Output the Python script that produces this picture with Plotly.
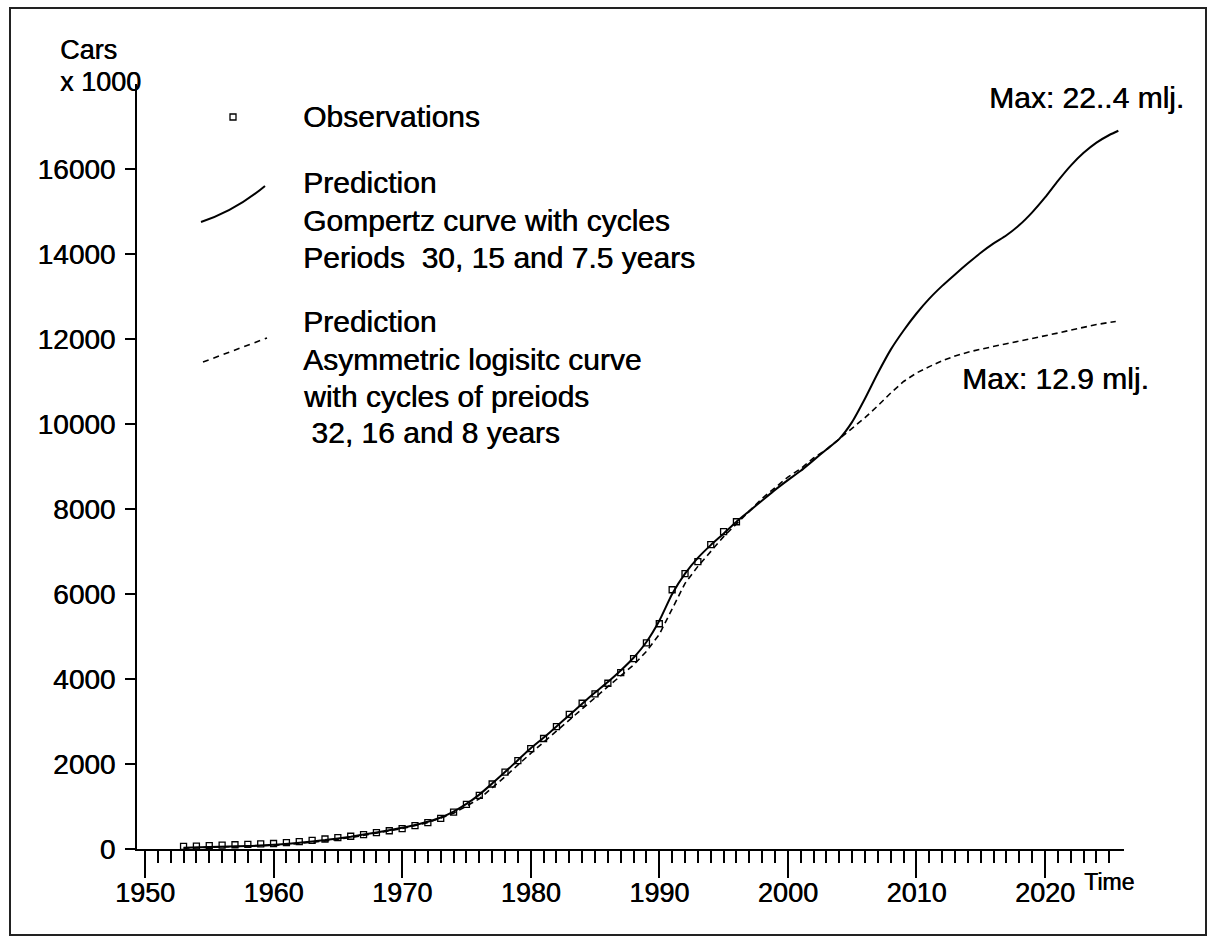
import plotly.graph_objects as go

# ---------------- data ----------------
obs_years = list(range(1953, 1997))
obs_values = [60, 70, 80, 90, 100, 110, 120, 130, 150, 175, 205, 235, 270, 300, 340,
              385, 430, 480, 550, 620, 720, 870, 1050, 1260, 1530, 1810, 2080, 2360,
              2600, 2880, 3170, 3430, 3650, 3900, 4150, 4480, 4850, 5300, 6100, 6480,
              6760, 7160, 7470, 7700]

gomp_years = [1953, 1955, 1958, 1960, 1962, 1964, 1966, 1968, 1970, 1971, 1972, 1973,
              1974, 1975, 1976, 1977, 1978, 1979, 1980, 1981, 1982, 1983, 1984, 1985,
              1986, 1987, 1988, 1989, 1990, 1991, 1992, 1993, 1994, 1995, 1996, 1997,
              1998, 1999, 2000, 2001, 2002, 2003, 2004, 2005, 2006, 2007, 2008, 2009,
              2010, 2011, 2012, 2013, 2014, 2015, 2016, 2017, 2018, 2019, 2020, 2021,
              2022, 2023, 2024, 2025, 2025.7]
gomp_values = [30, 45, 70, 100, 150, 210, 290, 390, 500, 565, 640, 740,
               880, 1060, 1280, 1540, 1810, 2090, 2370, 2620, 2880, 3150, 3420, 3680,
               3930, 4200, 4500, 4870, 5370, 6000, 6480, 6850, 7150, 7420, 7700, 7950,
               8200, 8450, 8680, 8900, 9150, 9400, 9650, 10050, 10600, 11200, 11750, 12200,
               12600, 12950, 13250, 13520, 13780, 14030, 14250, 14440, 14680, 14980, 15330, 15720,
               16080, 16380, 16620, 16800, 16900]

logi_years = [1953, 1955, 1958, 1960, 1962, 1964, 1966, 1968, 1970, 1972, 1974, 1976,
              1978, 1980, 1982, 1984, 1986, 1988, 1989, 1990, 1991, 1992, 1993, 1994,
              1995, 1996, 1997, 1998, 1999, 2000, 2001, 2002, 2003, 2004, 2005, 2006,
              2007, 2008, 2009, 2010, 2011, 2012, 2013, 2014, 2015, 2016, 2017, 2018,
              2019, 2020, 2021, 2022, 2023, 2024, 2025, 2025.5]
logi_values = [20, 35, 60, 85, 130, 190, 270, 370, 480, 620, 840, 1180,
               1700, 2250, 2780, 3300, 3820, 4330, 4650, 5050, 5650, 6250, 6650, 7000,
               7350, 7650, 7950, 8250, 8500, 8750, 8950, 9200, 9400, 9650, 9900, 10150,
               10430, 10730, 11000, 11200, 11350, 11490, 11600, 11690, 11760, 11830, 11890, 11950,
               12010, 12070, 12140, 12210, 12280, 12340, 12390, 12410]

x_major_ticks = [1950, 1960, 1970, 1980, 1990, 2000, 2010, 2020]
x_minor_ticks = list(range(1951, 2026))
y_ticks = [0, 2000, 4000, 6000, 8000, 10000, 12000, 14000, 16000]
y_tick_text = [str(v) for v in y_ticks]

legend_obs = ["Observations"]
legend_gomp = ["Prediction", "Gompertz curve with cycles", "Periods\u00a0 30, 15 and 7.5 years"]
legend_logi = ["Prediction", "Asymmetric logisitc curve", "with cycles of preiods",
               "\u00a032, 16 and 8 years"]

# ---------------- layout geometry (pixels) ----------------
W, H = 1212, 938
L, R, T, B = 137, 1124, 84, 849
FONT = "Liberation Sans, Arial, Helvetica, sans-serif"
INK = "0.5px 0px 0px #000"


def px(x):
    return (x - L) / (R - L)


def py(y):
    return (B - y) / (B - T)


fig = go.Figure()

fig.add_trace(go.Scatter(x=logi_years, y=logi_values, mode="lines",
                         line=dict(color="black", width=1.6, dash="6px,4px"),
                         name="Asymmetric logistic", showlegend=False))
fig.add_trace(go.Scatter(x=gomp_years, y=gomp_values, mode="lines",
                         line=dict(color="black", width=2, shape="spline", smoothing=0.6),
                         name="Gompertz", showlegend=False))
fig.add_trace(go.Scatter(x=obs_years, y=obs_values, mode="markers",
                         marker=dict(symbol="square-open", size=6, color="black",
                                     line=dict(width=1.3, color="black")),
                         name="Observations", showlegend=False))

ann = []


def text(x, y, s, size, xanchor="left", yanchor="middle"):
    ann.append(dict(x=px(x), y=py(y), xref="paper", yref="paper", text=s,
                    showarrow=False, xanchor=xanchor, yanchor=yanchor, align="left",
                    font=dict(family=FONT, size=size, color="black", shadow=INK)))


text(58, 50, "Cars", 27)
text(58, 82, "x 1000", 27)
text(1082, 882, "Time", 23)
for line, yy in zip(legend_obs, [117]):
    text(301, yy, line, 30)
for line, yy in zip(legend_gomp, [182, 220, 257]):
    text(301, yy, line, 30)
for line, yy in zip(legend_logi, [321, 359, 396, 432]):
    text(301, yy, line, 30)
text(987, 97, "Max: 22..4 mlj.", 30)
text(960, 378, "Max: 12.9 mlj.", 30)

shapes = [
    # outer frame
    dict(type="rect", xref="paper", yref="paper", x0=px(10), x1=px(1206), y0=py(935), y1=py(8),
         line=dict(color="#222", width=2)),
    # legend sample: observation marker
    dict(type="rect", xref="paper", yref="paper", x0=px(230), x1=px(236), y0=py(120), y1=py(114),
         line=dict(color="black", width=1.3)),
    # legend sample: solid line
    dict(type="path", xref="paper", yref="paper",
         path=f"M {px(201)},{py(222)} Q {px(235)},{py(211)} {px(265)},{py(186)}",
         line=dict(color="black", width=2)),
    # legend sample: dashed line
    dict(type="line", xref="paper", yref="paper", x0=px(203), y0=py(362), x1=px(267), y1=py(338),
         line=dict(color="black", width=1.6, dash="6px,5px")),
]

fig.update_layout(
    width=W, height=H,
    margin=dict(l=L, r=W - R, t=T, b=H - B, pad=0),
    paper_bgcolor="white", plot_bgcolor="white",
    showlegend=False,
    annotations=ann, shapes=shapes,
    font=dict(family=FONT, color="black", size=28),
)

fig.update_xaxes(range=[1949.38, 2026.14], showgrid=False, zeroline=False,
                 showline=True, linecolor="black", linewidth=2,
                 tickmode="array", tickvals=x_major_ticks, ticks="outside",
                 ticklen=27, tickwidth=2, tickcolor="black", ticklabelstandoff=-8,
                 tickfont=dict(family=FONT, size=27, color="black", shadow=INK),
                 minor=dict(tickmode="array", tickvals=x_minor_ticks, ticks="outside",
                            ticklen=12, tickwidth=2, tickcolor="black"))
fig.update_yaxes(range=[0, 18000], showgrid=False, zeroline=False,
                 showline=True, linecolor="black", linewidth=2,
                 tickmode="array", tickvals=y_ticks, ticktext=y_tick_text, ticks="outside",
                 ticklen=10, tickwidth=2, tickcolor="black", ticklabelstandoff=4,
                 tickfont=dict(family=FONT, size=28, color="black", shadow=INK))

fig.write_html("out.html", config={"displayModeBar": False},
               post_script="document.body.style.margin='0';document.body.style.padding='0';")
